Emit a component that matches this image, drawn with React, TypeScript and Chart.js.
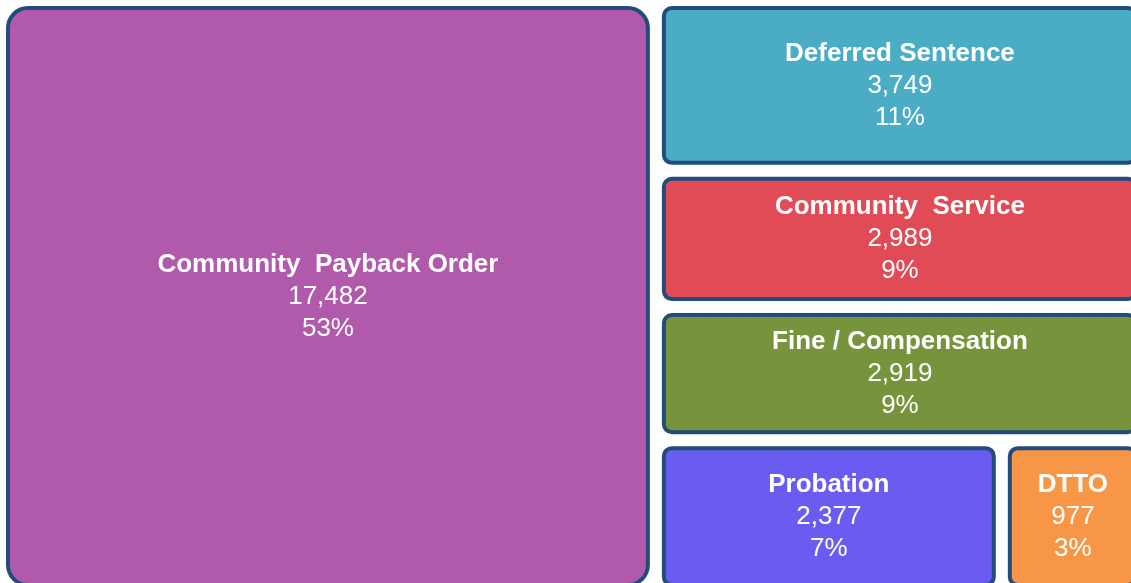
import React, { useEffect, useRef } from "react";
import { Chart, registerables } from "chart.js";

Chart.register(...registerables);

// ---- data ----
const categories = [
  "Community  Payback Order",
  "Deferred Sentence",
  "Community  Service",
  "Fine / Compensation",
  "Probation",
  "DTTO",
];
const values = [17482, 3749, 2989, 2919, 2377, 977];
const percentLabels = ["53%", "11%", "9%", "9%", "7%", "3%"];
const fillColors = ["#B15AAB", "#4BACC6", "#E14B55", "#77933C", "#6A5CF0", "#F79646"];
// treemap structure: columns -> rows -> item indices
const columns: number[][][] = [[[0]], [[1], [2], [3], [4, 5]]];

const BORDER = "#234C7B";
const GAP = 12;
const FONT = "Arial, 'Liberation Sans', sans-serif";

type Cell = { i: number; x0: number; x1: number; y0: number; y1: number };

function layoutCells(): Cell[] {
  const sum = (ids: number[]) => ids.reduce((s, i) => s + values[i], 0);
  const total = values.reduce((s, v) => s + v, 0);
  const cells: Cell[] = [];
  let cx = 0;
  for (const col of columns) {
    const colSum = col.reduce((s, r) => s + sum(r), 0);
    const cw = colSum / total;
    let cy = 0;
    for (const row of col) {
      const rs = sum(row);
      const rh = rs / colSum;
      let rx = cx;
      for (const i of row) {
        const w = (values[i] / rs) * cw;
        cells.push({ i, x0: rx, x1: rx + w, y0: cy, y1: cy + rh });
        rx += w;
      }
      cy += rh;
    }
    cx += cw;
  }
  return cells;
}

function roundRect(ctx: CanvasRenderingContext2D, x: number, y: number, w: number, h: number, r: number) {
  ctx.beginPath();
  ctx.moveTo(x + r, y);
  ctx.lineTo(x + w - r, y);
  ctx.arcTo(x + w, y, x + w, y + r, r);
  ctx.lineTo(x + w, y + h - r);
  ctx.arcTo(x + w, y + h, x + w - r, y + h, r);
  ctx.lineTo(x + r, y + h);
  ctx.arcTo(x, y + h, x, y + h - r, r);
  ctx.lineTo(x, y + r);
  ctx.arcTo(x, y, x + r, y, r);
  ctx.closePath();
}

const treemapPlugin = {
  id: "treemapCells",
  afterDatasetsDraw(chart: any) {
    const ctx: CanvasRenderingContext2D = chart.ctx;
    const xs = chart.scales.x;
    const ys = chart.scales.y;
    const cells = layoutCells();
    ctx.save();
    for (const c of cells) {
      const px0 = xs.getPixelForValue(c.x0) + GAP / 2;
      const px1 = xs.getPixelForValue(c.x1) - GAP / 2;
      const py0 = ys.getPixelForValue(c.y0) + GAP / 2;
      const py1 = ys.getPixelForValue(c.y1) - GAP / 2;
      const w = px1 - px0;
      const h = py1 - py0;
      const r = Math.max(8, Math.min(20, Math.min(w, h) * 0.035));
      roundRect(ctx, px0 + 2, py0 + 2, w - 4, h - 4, r);
      ctx.fillStyle = fillColors[c.i];
      ctx.fill();
      ctx.lineWidth = 4;
      ctx.strokeStyle = BORDER;
      ctx.stroke();

      const cxp = (px0 + px1) / 2;
      const cyp = (py0 + py1) / 2;
      ctx.fillStyle = "#FFFFFF";
      ctx.textAlign = "center";
      ctx.textBaseline = "middle";
      ctx.font = `bold 26px ${FONT}`;
      ctx.fillText(categories[c.i], cxp, cyp - 32);
      ctx.font = `26px ${FONT}`;
      ctx.fillText(values[c.i].toLocaleString("en-US"), cxp, cyp);
      ctx.fillText(percentLabels[c.i], cxp, cyp + 32);
    }
    ctx.restore();
  },
};

export default function App() {
  const ref = useRef<HTMLCanvasElement | null>(null);
  useEffect(() => {
    if (!ref.current) return;
    const chart = new Chart(ref.current, {
      type: "scatter",
      data: { datasets: [{ data: [], pointRadius: 0 }] },
      options: {
        animation: false,
        responsive: false,
        devicePixelRatio: 1,
        layout: { padding: { left: 0, top: -1, right: 6, bottom: 7 } },
        plugins: { legend: { display: false }, tooltip: { enabled: false } },
        scales: {
          x: { type: "linear", min: 0, max: 1, display: false },
          y: { type: "linear", min: 0, max: 1, reverse: true, display: false },
        },
      },
      plugins: [treemapPlugin],
    });
    return () => chart.destroy();
  }, []);
  return (
    <div
      style={{
        position: "fixed",
        left: 0,
        top: 0,
        width: 1131,
        height: 583,
        overflow: "hidden",
        background: "#FFFFFF",
      }}
    >
      <canvas ref={ref} width={1150} height={600} style={{ display: "block", width: 1150, height: 600 }} />
    </div>
  );
}
